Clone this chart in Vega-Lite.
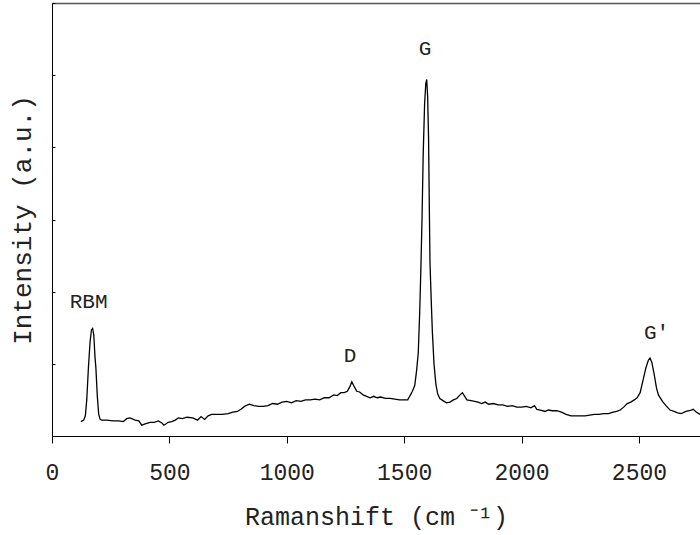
{
  "$schema": "https://vega.github.io/schema/vega-lite/v6.json",
  "autosize": {"type": "none"},
  "padding": {"left": 52, "top": 3, "right": 0, "bottom": 99},
  "width": 648,
  "height": 433,
  "background": "white",
  "config": {
    "view": {"stroke": null},
    "font": "Liberation Mono",
    "axis": {"grid": false, "domainColor": "#000", "tickColor": "#000", "labelColor": "#222", "titleColor": "#222", "labelFont": "Liberation Mono", "titleFont": "Liberation Mono", "titleFontWeight": "normal"}
  },
  "datasets": {
    "spectrum": [
      {"shift": 123, "intensity": 0.20}, {"shift": 135, "intensity": 0.22}, {"shift": 142, "intensity": 0.28},
      {"shift": 148, "intensity": 0.50}, {"shift": 155, "intensity": 0.94}, {"shift": 162, "intensity": 1.30},
      {"shift": 168, "intensity": 1.47}, {"shift": 173, "intensity": 1.49}, {"shift": 178, "intensity": 1.40},
      {"shift": 183, "intensity": 1.10}, {"shift": 187, "intensity": 0.94}, {"shift": 193, "intensity": 0.55},
      {"shift": 199, "intensity": 0.30}, {"shift": 205, "intensity": 0.23}, {"shift": 212, "intensity": 0.22},
      {"shift": 233, "intensity": 0.22}, {"shift": 260, "intensity": 0.21}, {"shift": 285, "intensity": 0.21},
      {"shift": 304, "intensity": 0.20}, {"shift": 318, "intensity": 0.24}, {"shift": 332, "intensity": 0.25},
      {"shift": 354, "intensity": 0.22}, {"shift": 370, "intensity": 0.21}, {"shift": 382, "intensity": 0.15},
      {"shift": 400, "intensity": 0.17}, {"shift": 418, "intensity": 0.19}, {"shift": 435, "intensity": 0.19},
      {"shift": 453, "intensity": 0.21}, {"shift": 468, "intensity": 0.18}, {"shift": 477, "intensity": 0.15},
      {"shift": 495, "intensity": 0.19}, {"shift": 510, "intensity": 0.20}, {"shift": 525, "intensity": 0.22},
      {"shift": 538, "intensity": 0.25}, {"shift": 555, "intensity": 0.24}, {"shift": 575, "intensity": 0.26},
      {"shift": 600, "intensity": 0.25}, {"shift": 620, "intensity": 0.22}, {"shift": 635, "intensity": 0.27},
      {"shift": 650, "intensity": 0.23}, {"shift": 665, "intensity": 0.28}, {"shift": 680, "intensity": 0.30},
      {"shift": 700, "intensity": 0.30}, {"shift": 725, "intensity": 0.30}, {"shift": 750, "intensity": 0.31},
      {"shift": 770, "intensity": 0.33}, {"shift": 790, "intensity": 0.34}, {"shift": 805, "intensity": 0.37},
      {"shift": 820, "intensity": 0.41}, {"shift": 840, "intensity": 0.44}, {"shift": 860, "intensity": 0.42},
      {"shift": 880, "intensity": 0.41}, {"shift": 900, "intensity": 0.41}, {"shift": 920, "intensity": 0.42},
      {"shift": 940, "intensity": 0.45}, {"shift": 960, "intensity": 0.44}, {"shift": 980, "intensity": 0.47},
      {"shift": 1000, "intensity": 0.48}, {"shift": 1020, "intensity": 0.46}, {"shift": 1040, "intensity": 0.49},
      {"shift": 1060, "intensity": 0.48}, {"shift": 1080, "intensity": 0.50}, {"shift": 1100, "intensity": 0.50},
      {"shift": 1120, "intensity": 0.51}, {"shift": 1140, "intensity": 0.50}, {"shift": 1160, "intensity": 0.53},
      {"shift": 1180, "intensity": 0.53}, {"shift": 1200, "intensity": 0.57}, {"shift": 1215, "intensity": 0.56},
      {"shift": 1230, "intensity": 0.60}, {"shift": 1245, "intensity": 0.60}, {"shift": 1258, "intensity": 0.62},
      {"shift": 1268, "intensity": 0.68}, {"shift": 1277, "intensity": 0.75}, {"shift": 1288, "intensity": 0.68},
      {"shift": 1298, "intensity": 0.62}, {"shift": 1310, "intensity": 0.61}, {"shift": 1325, "intensity": 0.57},
      {"shift": 1340, "intensity": 0.55}, {"shift": 1355, "intensity": 0.53}, {"shift": 1370, "intensity": 0.55},
      {"shift": 1385, "intensity": 0.53}, {"shift": 1400, "intensity": 0.54}, {"shift": 1420, "intensity": 0.52},
      {"shift": 1440, "intensity": 0.52}, {"shift": 1460, "intensity": 0.51}, {"shift": 1480, "intensity": 0.50},
      {"shift": 1500, "intensity": 0.50}, {"shift": 1515, "intensity": 0.50}, {"shift": 1525, "intensity": 0.56},
      {"shift": 1535, "intensity": 0.62}, {"shift": 1545, "intensity": 0.70}, {"shift": 1553, "intensity": 0.91},
      {"shift": 1560, "intensity": 1.15}, {"shift": 1566, "intensity": 1.70}, {"shift": 1571, "intensity": 2.30},
      {"shift": 1576, "intensity": 3.00}, {"shift": 1581, "intensity": 3.90}, {"shift": 1587, "intensity": 4.60},
      {"shift": 1592, "intensity": 4.88}, {"shift": 1596, "intensity": 4.94}, {"shift": 1600, "intensity": 4.70},
      {"shift": 1604, "intensity": 4.10}, {"shift": 1607, "intensity": 3.20}, {"shift": 1610, "intensity": 2.40},
      {"shift": 1615, "intensity": 1.90}, {"shift": 1620, "intensity": 1.45}, {"shift": 1627, "intensity": 1.00},
      {"shift": 1635, "intensity": 0.72}, {"shift": 1643, "intensity": 0.58}, {"shift": 1652, "intensity": 0.52},
      {"shift": 1665, "intensity": 0.49}, {"shift": 1681, "intensity": 0.46}, {"shift": 1695, "intensity": 0.47},
      {"shift": 1710, "intensity": 0.50}, {"shift": 1724, "intensity": 0.52}, {"shift": 1738, "intensity": 0.57},
      {"shift": 1748, "intensity": 0.60}, {"shift": 1758, "intensity": 0.55}, {"shift": 1767, "intensity": 0.50},
      {"shift": 1785, "intensity": 0.49}, {"shift": 1800, "intensity": 0.48}, {"shift": 1815, "intensity": 0.47},
      {"shift": 1830, "intensity": 0.45}, {"shift": 1845, "intensity": 0.47}, {"shift": 1860, "intensity": 0.44},
      {"shift": 1880, "intensity": 0.45}, {"shift": 1900, "intensity": 0.43}, {"shift": 1920, "intensity": 0.43},
      {"shift": 1940, "intensity": 0.41}, {"shift": 1960, "intensity": 0.42}, {"shift": 1980, "intensity": 0.40},
      {"shift": 2000, "intensity": 0.40}, {"shift": 2020, "intensity": 0.41}, {"shift": 2040, "intensity": 0.39},
      {"shift": 2055, "intensity": 0.42}, {"shift": 2065, "intensity": 0.37}, {"shift": 2080, "intensity": 0.36},
      {"shift": 2100, "intensity": 0.34}, {"shift": 2115, "intensity": 0.36}, {"shift": 2130, "intensity": 0.35},
      {"shift": 2150, "intensity": 0.35}, {"shift": 2170, "intensity": 0.33}, {"shift": 2190, "intensity": 0.30},
      {"shift": 2210, "intensity": 0.28}, {"shift": 2230, "intensity": 0.28}, {"shift": 2250, "intensity": 0.28},
      {"shift": 2270, "intensity": 0.28}, {"shift": 2290, "intensity": 0.29}, {"shift": 2310, "intensity": 0.30},
      {"shift": 2330, "intensity": 0.30}, {"shift": 2350, "intensity": 0.31}, {"shift": 2370, "intensity": 0.31},
      {"shift": 2390, "intensity": 0.33}, {"shift": 2405, "intensity": 0.34}, {"shift": 2420, "intensity": 0.36},
      {"shift": 2435, "intensity": 0.40}, {"shift": 2450, "intensity": 0.45}, {"shift": 2465, "intensity": 0.47},
      {"shift": 2480, "intensity": 0.50}, {"shift": 2492, "intensity": 0.53}, {"shift": 2505, "intensity": 0.60},
      {"shift": 2518, "intensity": 0.78}, {"shift": 2530, "intensity": 0.95}, {"shift": 2540, "intensity": 1.05},
      {"shift": 2547, "intensity": 1.08}, {"shift": 2555, "intensity": 1.02}, {"shift": 2565, "intensity": 0.85},
      {"shift": 2575, "intensity": 0.66}, {"shift": 2583, "intensity": 0.57}, {"shift": 2600, "intensity": 0.48},
      {"shift": 2615, "intensity": 0.42}, {"shift": 2632, "intensity": 0.36}, {"shift": 2650, "intensity": 0.34},
      {"shift": 2665, "intensity": 0.32}, {"shift": 2680, "intensity": 0.31}, {"shift": 2700, "intensity": 0.34},
      {"shift": 2715, "intensity": 0.35}, {"shift": 2731, "intensity": 0.37}, {"shift": 2745, "intensity": 0.33},
      {"shift": 2760, "intensity": 0.30}, {"shift": 2780, "intensity": 0.29}
    ],
    "peaks": [
      {"shift": 156, "intensity": 1.77, "label": "RBM"},
      {"shift": 1269, "intensity": 1.02, "label": "D"},
      {"shift": 1589, "intensity": 5.28, "label": "G"},
      {"shift": 2575, "intensity": 1.35, "label": "G'"}
    ]
  },
  "resolve": {"axis": {"x": "independent"}},
  "layer": [
    {
      "data": {"name": "spectrum"},
      "mark": {"type": "line", "color": "#000", "strokeWidth": 1.3, "clip": true},
      "encoding": {
        "x": {"field": "shift", "type": "quantitative",
              "scale": {"domain": [0, 2760], "nice": false, "zero": false},
              "axis": {"orient": "bottom", "values": [0, 500, 1000, 1500, 2000, 2500], "format": "d", "tickSize": 7, "labelFontSize": 23, "labelPadding": 18,
                       "title": "Ramanshift (cm ⁻¹)", "titleFontSize": 25, "titlePadding": 20, "labelFlush": false}},
        "y": {"field": "intensity", "type": "quantitative",
              "scale": {"domain": [0, 6], "nice": false},
              "axis": {"values": [0, 1, 2, 3, 4, 5, 6], "labels": false, "tickSize": -3,
                       "title": "Intensity (a.u.)", "titleFontSize": 26, "titlePadding": 16}}
      }
    },
    {
      "data": {"name": "peaks"},
      "mark": {"type": "text", "fontSize": 21, "font": "Liberation Mono", "baseline": "alphabetic", "align": "center", "color": "#222"},
      "encoding": {
        "x": {"field": "shift", "type": "quantitative",
              "axis": {"orient": "top", "labels": false, "ticks": false, "title": null, "domainColor": "#555555", "domainWidth": 1.3}},
        "y": {"field": "intensity", "type": "quantitative"},
        "text": {"field": "label"}
      }
    }
  ]
}
